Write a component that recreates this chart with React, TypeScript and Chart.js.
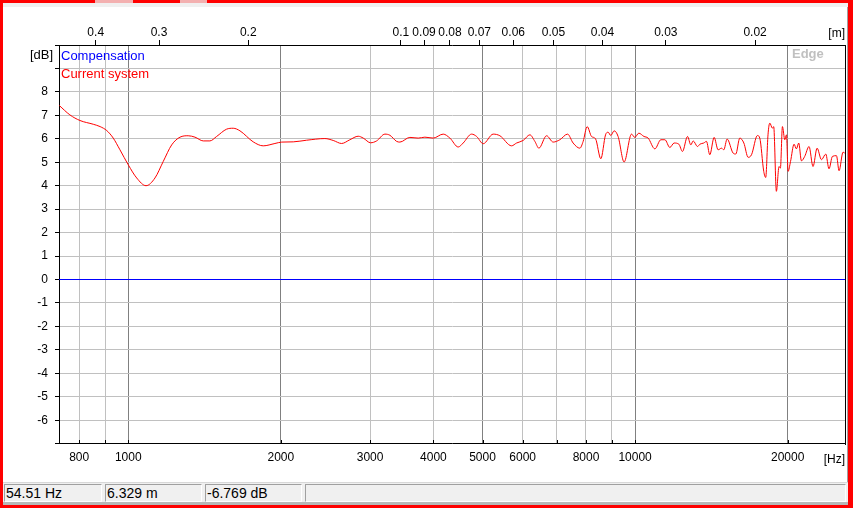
import React, { useEffect, useRef } from 'react';
import { Chart, registerables } from 'chart.js';

Chart.register(...registerables);

// ---- data ----
const SPEED_OF_SOUND = 345;
const FREQ_MIN = 730;
const FREQ_MAX = 25950;
const DB_MIN = -7;
const DB_MAX = 10;

const curveHz = [
  731, 767, 803, 853, 880, 907, 934, 963, 1000, 1039, 1084, 1129, 1172, 1218, 1265, 1313, 1354, 1406,
  1449, 1494, 1563, 1611, 1661, 1764, 1846, 1947, 2008, 2116, 2248, 2443, 2537, 2636, 2737, 2842,
  2908, 3007, 3090, 3209, 3283, 3384, 3435, 3594, 3733, 3848, 3996, 4182, 4311, 4477, 4579, 4757,
  4867, 5015, 5248, 5410, 5705, 5836, 6014, 6200, 6342, 6459, 6688, 6892, 7104, 7357, 7546, 7780,
  7898, 8043, 8204, 8355, 8558, 8743, 8846, 8955, 9090, 9257, 9513, 9838, 9986, 10170, 10410, 10610,
  10940, 11240, 11450, 11710, 11940, 12200, 12400, 12690, 12880, 13020, 13280, 13420, 13660, 13830,
  14040, 14320, 14580, 14810, 14960, 15190, 15610, 15800, 16090, 16390, 16710, 16970, 17430, 17620,
  17940, 18100, 18290, 18440, 18660, 18770, 19000, 19230, 19350, 19530, 19740, 19890, 20040, 20260,
  20590, 20810, 21030, 21290, 21610, 22040, 22440, 22860, 23320, 23780, 24130, 24510, 24960, 25260,
  25720, 25920,
];
const curveDb = [
  7.42, 7.02, 6.78, 6.62, 6.52, 6.35, 6.03, 5.53, 4.89, 4.33, 4.0, 4.33, 5.03, 5.74, 6.07, 6.13, 6.07, 5.91,
  5.91, 6.1, 6.41, 6.45, 6.34, 5.87, 5.7, 5.8, 5.86, 5.87, 5.94, 6.01, 5.93, 5.8, 5.96, 6.11,
  6.03, 5.83, 5.91, 6.2, 6.15, 5.89, 5.86, 6.06, 6.03, 6.07, 6.03, 6.2, 6.03, 5.65, 5.82, 6.2,
  6.1, 5.79, 6.2, 6.13, 5.7, 5.82, 5.93, 6.17, 5.89, 5.6, 6.13, 5.86, 5.96, 6.2, 5.82, 5.6,
  5.89, 6.52, 6.1, 6.0, 5.15, 6.17, 6.28, 6.14, 6.34, 6.1, 5.01, 6.2, 6.06, 6.24, 6.1, 6.03,
  5.57, 5.96, 5.96, 5.63, 5.82, 5.77, 5.46, 6.1, 5.74, 5.91, 5.67, 5.77, 5.82, 5.89,
  5.32, 6.06, 5.53, 5.6, 5.53, 5.99, 5.39, 5.35, 6.03, 5.82, 5.21, 5.32, 6.14, 6.03,
  4.61, 4.35, 6.17, 6.67, 6.45, 6.52, 3.76, 4.82, 4.75, 6.52, 5.96, 6.17, 4.61, 5.03,
  5.77, 5.57, 5.82, 5.06, 5.25, 5.67, 4.82, 5.6, 5.11, 5.35, 4.72, 5.25, 5.28, 4.64,
  5.43, 5.39,
];
const compensationHz = [FREQ_MIN, FREQ_MAX];
const compensationDb = [0, 0];

const gridHz = [800, 900, 1000, 2000, 3000, 4000, 5000, 6000, 7000, 8000, 9000, 10000, 20000];
const majorHz = [1000, 2000, 5000, 10000, 20000];
const labeledHz = [800, 1000, 2000, 3000, 4000, 5000, 6000, 8000, 10000, 20000];
const topMeters = [0.4, 0.3, 0.2, 0.1, 0.09, 0.08, 0.07, 0.06, 0.05, 0.04, 0.03, 0.02];
const topMeterLabels = ['0.4', '0.3', '0.2', '0.1', '0.09', '0.08', '0.07', '0.06', '0.05', '0.04', '0.03', '0.02'];
const labeledDbMin = -6;
const labeledDbMax = 8;

const seriesNames = ['Compensation', 'Current system'];
const seriesColors = ['#0000ff', '#ff0000'];
const statusTexts = ['54.51 Hz', '6.329 m', '-6.769 dB', ''];
const statusPanels = [
  [4, 102],
  [105, 202],
  [205, 302],
  [305, 846],
];

const FONT = "'Liberation Sans', Arial, sans-serif";

const decorPlugin = {
  id: 'decor',
  afterDraw(chart: any) {
    const ctx = chart.ctx as CanvasRenderingContext2D;
    const { left, right, top, bottom } = chart.chartArea;
    const xs = chart.scales.x;
    const yb = Math.round(bottom);
    ctx.save();
    ctx.strokeStyle = '#000000';
    ctx.lineWidth = 1;
    ctx.beginPath();
    ctx.moveTo(Math.round(right) + 0.5, top);
    ctx.lineTo(Math.round(right) + 0.5, yb + 1);
    ctx.stroke();
    ctx.beginPath();
    gridHz.forEach((v) => {
      const px = Math.round(xs.getPixelForValue(v)) + 0.5;
      ctx.moveTo(px, yb - 4);
      ctx.lineTo(px, yb);
    });
    ctx.stroke();
    ctx.font = `13px ${FONT}`;
    ctx.textAlign = 'left';
    ctx.textBaseline = 'alphabetic';
    ctx.fillStyle = seriesColors[0];
    ctx.fillText(seriesNames[0], left + 2, 60);
    ctx.fillStyle = seriesColors[1];
    ctx.fillText(seriesNames[1], left + 2, 78);
    ctx.fillStyle = '#000';
    ctx.textAlign = 'right';
    ctx.font = `13px ${FONT}`;
    ctx.fillText('[dB]', 53, 59);
    ctx.font = `12px ${FONT}`;
    ctx.fillText('[m]', right, 37);
    ctx.fillText('[Hz]', right, 463);
    ctx.font = `bold 13px ${FONT}`;
    ctx.fillStyle = '#c0c0c0';
    ctx.textAlign = 'left';
    ctx.fillText('Edge', 792, 58);
    ctx.restore();
  },
};

export default function App() {
  const ref = useRef<HTMLCanvasElement>(null);

  useEffect(() => {
    document.body.style.margin = '0';
    const canvas = ref.current!;
    const chart = new Chart(canvas, {
      type: 'line',
      data: {
        datasets: [
          {
            label: seriesNames[1],
            data: curveHz.map((f, i) => ({ x: f, y: curveDb[i] })),
            borderColor: seriesColors[1],
            backgroundColor: seriesColors[1],
            borderWidth: 1,
            pointRadius: 0,
            fill: false,
            cubicInterpolationMode: 'monotone',
            xAxisID: 'x',
            yAxisID: 'y',
          },
          {
            label: seriesNames[0],
            data: compensationHz.map((f, i) => ({ x: f, y: compensationDb[i] })),
            borderColor: seriesColors[0],
            backgroundColor: seriesColors[0],
            borderWidth: 1,
            pointRadius: 0,
            fill: false,
            tension: 0,
            xAxisID: 'x',
            yAxisID: 'y',
          },
        ],
      },
      options: {
        animation: false,
        responsive: false,
        devicePixelRatio: 1,
        layout: { padding: { left: 0, right: 8, top: 0, bottom: 0 } },
        plugins: { legend: { display: false }, tooltip: { enabled: false } },
        scales: {
          x: {
            type: 'logarithmic',
            position: 'bottom',
            min: FREQ_MIN,
            max: FREQ_MAX,
            afterBuildTicks: (s: any) => {
              s.ticks = gridHz.map((v) => ({ value: v }));
            },
            afterFit: (s: any) => {
              s.height = 38.35;
            },
            ticks: {
              autoSkip: false,
              maxRotation: 0,
              padding: 7,
              color: '#000',
              font: { family: FONT, size: 12 },
              callback: (v: any) => (labeledHz.includes(Number(v)) ? String(v) : ''),
            },
            grid: {
              drawTicks: false,
              color: (c: any) => (c.tick && majorHz.includes(c.tick.value) ? '#808080' : '#c0c0c0'),
            },
            border: { color: '#000' },
          },
          x2: {
            type: 'logarithmic',
            position: 'top',
            min: FREQ_MIN,
            max: FREQ_MAX,
            afterBuildTicks: (s: any) => {
              s.ticks = topMeters.map((m) => ({ value: SPEED_OF_SOUND / m }));
            },
            afterFit: (s: any) => {
              s.height = 45;
            },
            ticks: {
              autoSkip: false,
              maxRotation: 0,
              padding: 0,
              color: '#000',
              font: { family: FONT, size: 12 },
              callback: (_v: any, i: number) => topMeterLabels[i] ?? '',
            },
            grid: { drawOnChartArea: false, drawTicks: true, tickLength: 5, tickColor: '#000' },
            border: { color: '#000' },
          },
          y: {
            type: 'linear',
            position: 'left',
            min: DB_MIN,
            max: DB_MAX,
            afterFit: (s: any) => {
              s.width = 59;
            },
            ticks: {
              stepSize: 1,
              padding: 7,
              color: '#000',
              font: { family: FONT, size: 12 },
              callback: (v: any) => (v >= labeledDbMin && v <= labeledDbMax ? String(v) : ''),
            },
            grid: {
              color: (c: any) => (c.tick && c.tick.value === 0 ? 'rgba(0,0,0,0)' : '#c0c0c0'),
              tickLength: 4,
              tickColor: '#000',
            },
            border: { color: '#000' },
          },
        },
      } as any,
      plugins: [decorPlugin],
    });
    return () => chart.destroy();
  }, []);

  return (
    <div
      style={{
        position: 'fixed',
        left: 0,
        top: 0,
        width: 853,
        height: 508,
        background: '#ff0000',
        overflow: 'hidden',
        fontFamily: FONT,
      }}
    >
      <div style={{ position: 'absolute', left: 3, top: 3, width: 845, height: 502, background: '#ffffff' }} />
      <div style={{ position: 'absolute', left: 3, top: 3, width: 845, height: 4, background: '#f0f0f0' }} />
      <div style={{ position: 'absolute', left: 95, top: 0, width: 38, height: 3, background: '#f3b0b0' }} />
      <div style={{ position: 'absolute', left: 180, top: 0, width: 27, height: 3, background: '#f3b0b0' }} />
      <div style={{ position: 'absolute', left: 847, top: 7, width: 1, height: 475, background: '#a0a0a0' }} />
      <canvas
        ref={ref}
        width={853}
        height={482}
        style={{ position: 'absolute', left: 0, top: 0, width: 853, height: 482 }}
      />
      <div
        style={{
          position: 'absolute',
          left: 3,
          top: 482,
          width: 845,
          height: 23,
          background: '#f0f0f0',
          borderTop: '1px solid #d8d8d8',
          boxSizing: 'border-box',
        }}
      />
      {statusPanels.map(([a, b], i) => (
        <div
          key={i}
          style={{
            position: 'absolute',
            left: a,
            top: 484,
            width: b - a,
            height: 18,
            boxSizing: 'border-box',
            borderTop: '1px solid #a0a0a0',
            borderLeft: '1px solid #a0a0a0',
            borderBottom: '1px solid #ffffff',
            borderRight: '1px solid #ffffff',
            fontSize: 14,
            lineHeight: '16px',
            paddingLeft: 1,
            color: '#000',
            whiteSpace: 'nowrap',
          }}
        >
          {statusTexts[i]}
        </div>
      ))}
      <div style={{ position: 'absolute', left: 3, top: 502, width: 845, height: 3, background: '#b8b8b8' }} />
    </div>
  );
}
